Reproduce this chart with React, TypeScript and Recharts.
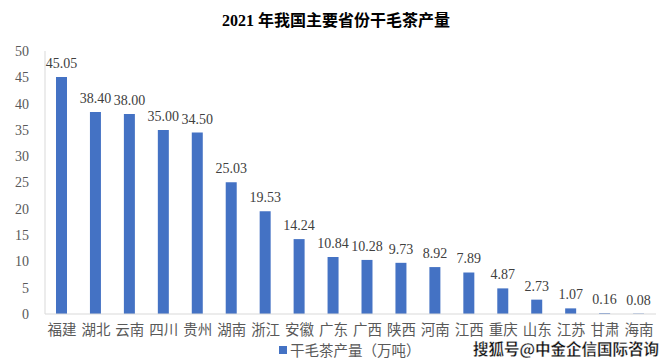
import React from "react";
import { BarChart, Bar, XAxis, YAxis, LabelList } from "recharts";

const provinces = [
  "福建", "湖北", "云南", "四川", "贵州", "湖南", "浙江", "安徽", "广东",
  "广西", "陕西", "河南", "江西", "重庆", "山东", "江苏", "甘肃", "海南",
];
const output = [
  45.05, 38.4, 38.0, 35.0, 34.5, 25.03, 19.53, 14.24, 10.84,
  10.28, 9.73, 8.92, 7.89, 4.87, 2.73, 1.07, 0.16, 0.08,
];
const yTicks = [0, 5, 10, 15, 20, 25, 30, 35, 40, 45, 50];
const seriesName = "干毛茶产量（万吨）";

const data = provinces.map((p, i) => ({ name: p, value: output[i] }));

const serif = "'Liberation Serif', 'DejaVu Serif', serif";
const cjk = "'Noto Sans CJK SC', sans-serif";

const XTick = (props: any) => {
  const { x, y, payload } = props;
  return (
    <text x={x} y={y + 9} textAnchor="middle" dominantBaseline="middle"
      fontFamily={cjk} fontSize={14.5} fill="#595959">
      {payload.value}
    </text>
  );
};

export default function App() {
  return (
    <div style={{ position: "fixed", left: 0, top: 0, width: 672, height: 363, background: "#fff" }}>
      <div style={{ position: "absolute", left: 0, top: 7, width: 672, textAlign: "center",
        fontFamily: `${serif}, ${cjk}`, fontWeight: "bold", fontSize: 16, color: "#000" }}>
        2021 年我国主要省份干毛茶产量
      </div>
      <BarChart width={672} height={363} data={data}
        margin={{ top: 51, right: 16, left: 15, bottom: 0 }}>
        <XAxis dataKey="name" axisLine={{ stroke: "#d9d9d9" }} tickLine={false}
          tick={<XTick />} interval={0} height={49} />
        <YAxis width={30} domain={[0, 50]} ticks={yTicks} interval={0}
          axisLine={{ stroke: "#d9d9d9" }} tickLine={false} tickMargin={10}
          tick={{ fontFamily: serif, fontSize: 14, fill: "#595959" }} />
        <Bar dataKey="value" name={seriesName} fill="#4472C4" barSize={11} isAnimationActive={false}>
          <LabelList dataKey="value" position="top" offset={9}
            formatter={(v: any) => Number(v).toFixed(2)}
            style={{ fontFamily: serif, fontSize: 14, fill: "#404040" }} />
        </Bar>
      </BarChart>
      <div style={{ position: "absolute", left: 279, top: 342, display: "flex", alignItems: "center",
        fontFamily: cjk, fontSize: 14.5, lineHeight: "16px", color: "#595959" }}>
        <span style={{ display: "inline-block", width: 8, height: 8, background: "#4472C4", marginRight: 3 }} />
        {seriesName}
      </div>
      <div style={{ position: "absolute", left: 473, top: 340, fontFamily: cjk, fontWeight: "bold",
        fontSize: 15.5, lineHeight: "16px", color: "#111", WebkitTextStroke: "0.3px #fff",
        textShadow: "0 0 2px #fff, 0 0 2px #fff" }}>
        搜狐号@中金企信国际咨询
      </div>
    </div>
  );
}
